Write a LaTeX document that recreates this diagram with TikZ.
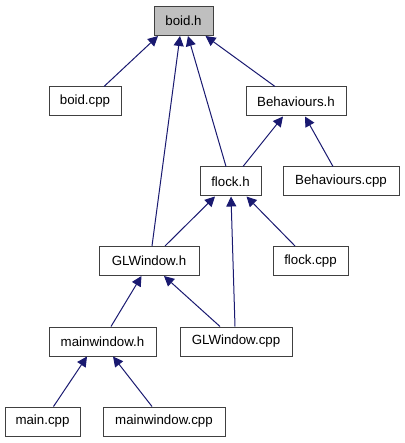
\documentclass[tikz,border=0pt]{standalone}
\usepackage{fontspec}
\setmainfont{Liberation Sans}
\usetikzlibrary{arrows.meta}
\definecolor{edgecol}{HTML}{191970}
\definecolor{boxcol}{HTML}{404040}
\definecolor{focusfill}{HTML}{BFBFBF}
\tikzset{
  file/.style={draw=boxcol, line width=1pt, fill=white, inner sep=0pt,
    minimum height=29pt, font=\fontsize{13.3pt}{15pt}\selectfont},
  focus/.style={file, fill=focusfill},
  dep/.style={draw=edgecol, line width=1pt,
    -{Triangle[length=10pt,width=10pt]}, color=edgecol}
}
\begin{document}
\begin{tikzpicture}[x=1pt,y=-1pt]
\useasboundingbox (0,0) rectangle (404,443);
\node[focus, minimum width=59pt] (boidh) at (183.5,21) {boid.h};
\node[file, minimum width=72pt] (boidcpp) at (85,101.5) {boid.cpp};
\node[file, minimum width=100pt] (behh) at (296,101.5) {Behaviours.h};
\node[file, minimum width=61pt] (flockh) at (230.5,181.5) {flock.h};
\node[file, minimum width=116pt] (behcpp) at (341,181.5) {Behaviours.cpp};
\node[file, minimum width=100pt] (glwh) at (149,261) {GLWindow.h};
\node[file, minimum width=75pt] (flockcpp) at (310.5,261) {flock.cpp};
\node[file, minimum width=107pt] (mwh) at (102.5,341.5) {mainwindow.h};
\node[file, minimum width=112pt] (glwcpp) at (236,341.5) {GLWindow.cpp};
\node[file, minimum width=75pt] (maincpp) at (42.5,421.5) {main.cpp};
\node[file, minimum width=122pt] (mwcpp) at (164,421.5) {mainwindow.cpp};

\draw[dep] ([xshift=19pt]boidcpp.north) -- ([xshift=-25.5pt]boidh.south);
\draw[dep] ([xshift=3pt]glwh.north) -- ([xshift=-3.5pt]boidh.south);
\draw[dep] ([xshift=-4.5pt]flockh.north) -- ([xshift=4.5pt]boidh.south);
\draw[dep] ([xshift=-21pt]behh.north) -- ([xshift=22pt]boidh.south);
\draw[dep] ([xshift=12.5pt]flockh.north) -- ([xshift=-13pt]behh.south);
\draw[dep] ([xshift=-8pt]behcpp.north) -- ([xshift=9pt]behh.south);
\draw[dep] ([xshift=16pt]glwh.north) -- ([xshift=-15.5pt]flockh.south);
\draw[dep] ([xshift=-1pt]glwcpp.north) -- ([xshift=0.5pt]flockh.south);
\draw[dep] ([xshift=-15.5pt]flockcpp.north) -- ([xshift=16pt]flockh.south);
\draw[dep] ([xshift=8.5pt]mwh.north) -- ([xshift=-7.5pt]glwh.south);
\draw[dep] ([xshift=-16pt]glwcpp.north) -- ([xshift=15pt]glwh.south);
\draw[dep] ([xshift=11pt]maincpp.north) -- ([xshift=-15.5pt]mwh.south);
\draw[dep] ([xshift=-12pt]mwcpp.north) -- ([xshift=10.5pt]mwh.south);
\end{tikzpicture}
\end{document}
